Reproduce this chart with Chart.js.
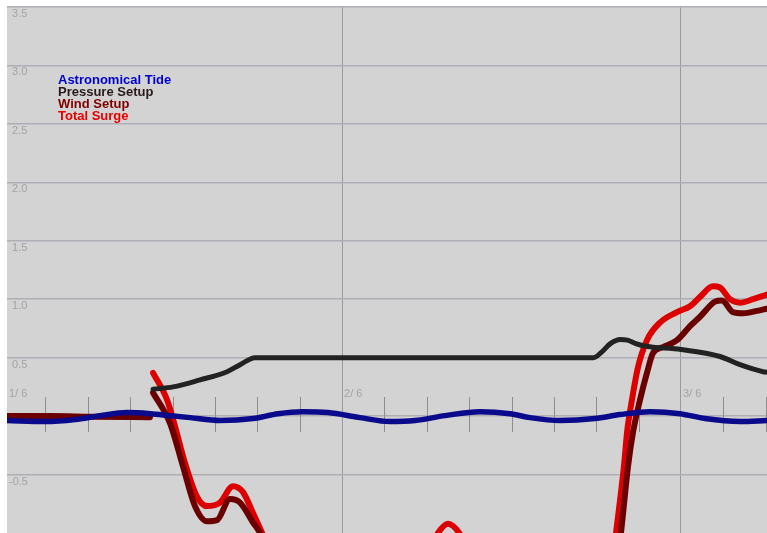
<!DOCTYPE html>
<html>
<head>
<meta charset="utf-8">
<script src="https://cdn.jsdelivr.net/npm/chart.js@4.4.0/dist/chart.umd.min.js"></script>
<style>
  html, body { margin: 0; padding: 0; background: #fff; }
  canvas { display: block; }
</style>
</head>
<body>
<canvas id="surgeChart" width="767" height="533"></canvas>
<script>
// hours counted from 1/6 00:00
const seriesNames = ['Astronomical Tide', 'Pressure Setup', 'Wind Setup', 'Total Surge'];
const dayLabels = ['1/ 6', '2/ 6', '3/ 6'];

const tideHours = [0.28, 2.97, 5.10, 6.87, 8.78, 10.41, 11.82, 13.24, 15.36, 17.70, 19.47, 21.24, 23.01, 25.27, 27.40, 29.17, 31.29, 33.77, 35.89, 37.31, 39.43, 41.91, 43.68, 45.81, 47.93, 49.70, 52.18, 54.09];
const tideLevels = [-0.038, -0.047, -0.03, 0.004, 0.03, 0.021, 0.004, -0.013, -0.038, -0.021, 0.021, 0.038, 0.03, -0.013, -0.047, -0.038, 0.004, 0.038, 0.021, -0.013, -0.038, -0.021, 0.013, 0.038, 0.021, -0.021, -0.047, -0.038];

const pressureHours = [10.62, 12.04, 13.95, 15.86, 16.78, 17.84, 41.8, 42.4, 43.0, 43.7, 44.2, 44.8, 45.4, 48.0, 50.76, 52.18, 53.81, 54.09];
const pressureLevels = [0.23, 0.25, 0.31, 0.38, 0.44, 0.50, 0.50, 0.55, 0.62, 0.655, 0.65, 0.62, 0.60, 0.57, 0.51, 0.44, 0.38, 0.375];

const windHours = [0.28, 3.3, 6.2, 10.4, 10.5, 10.62, 11.82, 12.74, 13.59, 14.44, 15.15, 16.07, 16.78, 17.70, 18.19, 20.0, 25.0, 31.0, 37.0, 42.0, 43.1, 43.75, 44.25, 44.60, 45.10, 45.59, 46.02, 46.72, 47.72, 48.64, 49.35, 50.41, 50.90, 51.68, 52.39, 53.38, 54.09];
const windLevels = [0.0, 0.0, -0.005, -0.01, null, 0.20, -0.06, -0.43, -0.77, -0.90, -0.89, -0.71, -0.74, -0.91, -1.0, -1.6, -1.9, -1.8, -1.9, -1.9, -1.6, -1.0, -0.43, -0.14, 0.14, 0.37, 0.54, 0.59, 0.65, 0.77, 0.85, 0.98, 0.99, 0.89, 0.88, 0.90, 0.92];

const surgeHours = [10.62, 11.61, 12.18, 12.88, 13.73, 14.44, 15.36, 16.28, 16.99, 17.70, 18.34, 20.0, 24.0, 28.0, 29.8, 30.8, 31.5, 32.3, 33.3, 36.0, 40.0, 42.9, 43.40, 43.96, 44.18, 44.53, 44.96, 45.59, 46.51, 47.72, 48.64, 49.35, 50.27, 50.76, 51.47, 52.18, 53.10, 54.09];
const surgeLevels = [0.37, 0.14, -0.09, -0.40, -0.69, -0.77, -0.74, -0.60, -0.65, -0.83, -1.0, -1.5, -1.7, -1.45, -1.25, -1.0, -0.92, -1.0, -1.25, -1.6, -1.7, -1.5, -1.0, -0.43, -0.14, 0.14, 0.42, 0.65, 0.80, 0.89, 0.94, 1.02, 1.11, 1.10, 1.00, 0.97, 1.00, 1.04];

const lineColors = ['#0a0a8c', '#222222', '#6a0000', '#dd0000'];
const legendColors = ['#0000cc', '#2a1a1a', '#800000', '#e60000'];

function toPoints(hours, values) {
    return hours.map((h, i) => ({ x: h, y: values[i] }));
}

// no label padding, axes take no room
function flatAxis(s) {
    if (s.isHorizontal()) s.height = 0; else s.width = 0;
    s.paddingTop = 0;
    s.paddingBottom = 0;
    s.paddingLeft = 0;
    s.paddingRight = 0;
}

const surgeDecor = {
    id: 'surgeDecor',
    beforeDraw(chart) {
        const { ctx, chartArea: a } = chart;
        ctx.save();
        ctx.fillStyle = '#ffffff';
        ctx.fillRect(0, 0, chart.width, chart.height);
        ctx.fillStyle = '#d3d3d3';
        ctx.fillRect(a.left, a.top, a.right - a.left, a.bottom - a.top);
        ctx.restore();
    },
    beforeDatasetsDraw(chart) {
        const { ctx, chartArea: a, scales } = chart;
        const x = scales.x, y = scales.y;
        const y0 = Math.round(y.getPixelForValue(0));
        ctx.save();
        ctx.strokeStyle = '#8e8e8e';
        ctx.lineWidth = 1;
        for (let h = 3; h <= x.max; h += 3) {
            if (h % 24 === 0) continue;
            const px = Math.round(x.getPixelForValue(h)) + 0.5;
            ctx.beginPath();
            ctx.moveTo(px, y0 - 19);
            ctx.lineTo(px, y0 + 16);
            ctx.stroke();
        }
        // day labels
        ctx.fillStyle = '#a4a4a4';
        ctx.font = '11px "Liberation Sans", Arial, sans-serif';
        dayLabels.forEach((lbl, i) => {
            const px = Math.max(x.getPixelForValue(i * 24), a.left) + 2;
            ctx.fillText(lbl, px, y0 - 19);
        });
        ctx.restore();
    },
    afterDatasetsDraw(chart) {
        const ctx = chart.ctx;
        ctx.save();
        ctx.font = 'bold 13px "Liberation Sans", Arial, sans-serif';
        seriesNames.forEach((name, i) => {
            ctx.fillStyle = legendColors[i];
            ctx.fillText(name, 58, 84 + i * 12);
        });
        ctx.restore();
    }
};

function makeDataset(i, hours, values, width) {
    return {
        label: seriesNames[i],
        data: toPoints(hours, values),
        borderColor: lineColors[i],
        borderWidth: width,
        pointRadius: 0,
        cubicInterpolationMode: 'monotone',
        borderCapStyle: 'round',
        borderJoinStyle: 'round',
        spanGaps: false,
        clip: 0
    };
}

new Chart(document.getElementById('surgeChart'), {
    type: 'line',
    data: {
        datasets: [
            makeDataset(0, tideHours, tideLevels, 5.5),
            makeDataset(1, pressureHours, pressureLevels, 5),
            makeDataset(2, windHours, windLevels, 6),
            makeDataset(3, surgeHours, surgeLevels, 6)
        ]
    },
    options: {
        responsive: false,
        devicePixelRatio: 1,
        animation: false,
        layout: { padding: { left: 7, top: 7, right: 0, bottom: 0 } },
        plugins: {
            legend: { display: false },
            tooltip: { enabled: false }
        },
        scales: {
            x: {
                type: 'linear',
                min: 0.28,
                max: 54.09,
                border: { display: false },
                grid: {
                    drawTicks: false,
                    lineWidth: 1,
                    color: (c) => (c.tick && c.tick.value > 0 && c.tick.value % 24 === 0) ? '#9a9a9a' : 'rgba(0,0,0,0)'
                },
                ticks: { display: false, stepSize: 3 },
                afterFit: flatAxis
            },
            y: {
                min: -1.0,
                max: 3.5,
                border: { display: false },
                grid: {
                    drawTicks: false,
                    lineWidth: 1.5,
                    color: (c) => (c.tick && c.tick.value <= -1) ? 'rgba(0,0,0,0)' : '#b1adb5'
                },
                ticks: {
                    stepSize: 0.5,
                    mirror: true,
                    padding: 2,
                    labelOffset: 7,
                    color: '#a4a4a4',
                    font: { family: '"Liberation Sans", Arial, sans-serif', size: 11 },
                    callback: function(value) {
                        if (value === 0 || value <= -1) return '';
                        return (value > 0 ? ' ' : '') + value.toFixed(1);
                    }
                },
                afterFit: flatAxis
            }
        }
    },
    plugins: [surgeDecor]
});
</script>
</body>
</html>
